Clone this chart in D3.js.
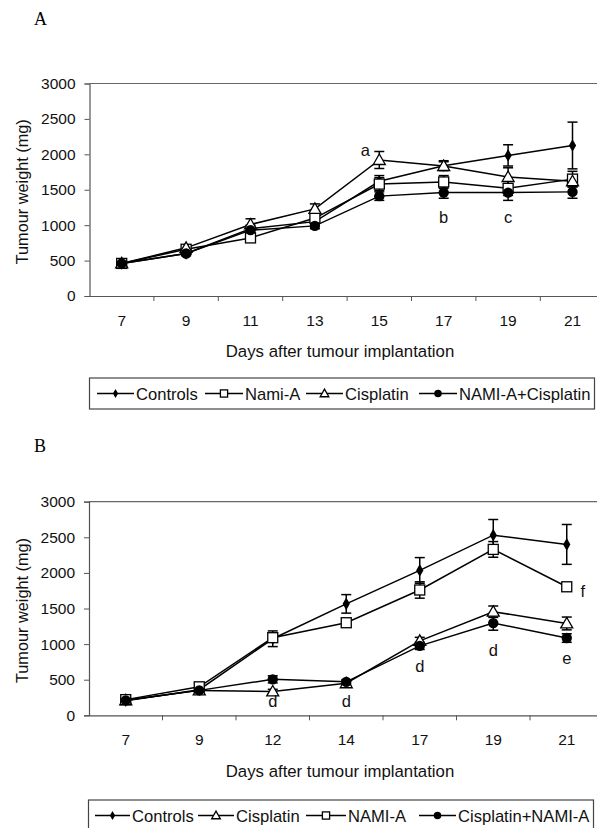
<!DOCTYPE html>
<html>
<head>
<meta charset="utf-8">
<script src="https://cdn.jsdelivr.net/npm/d3@7"></script>
<style>
  body { margin: 0; background: #fff; }
  svg { display: block; font-family: "Liberation Sans", Arial, sans-serif; }
</style>
</head>
<body>
<div id="chart"></div>
<script>
// panel A
const daysA = ["7", "9", "11", "13", "15", "17", "19", "21"];
const controlsA = [460, 600, 950, 1050, 1620, 1840, 1985, 2125];
const controlsErrA = [20, 30, 50, 40, 80, 70, 150, 330];
const namiA = [460, 660, 820, 1100, 1580, 1610, 1520, 1650];
const namiErrA = [20, 30, 40, 70, 90, 90, 100, 110];
const cisplatinA = [460, 680, 1010, 1230, 1920, 1835, 1680, 1620];
const cisplatinErrA = [20, 30, 80, 70, 120, 60, 130, 80];
const comboA = [460, 600, 930, 990, 1410, 1460, 1460, 1470];
const comboErrA = [20, 30, 40, 40, 60, 80, 110, 90];
const notesA = [["15", 2060, "a", -14], ["17", 1114, "b", 0], ["19", 1114, "c", 0]];

// panel B
const daysB = ["7", "9", "12", "14", "17", "19", "21"];
const controlsB = [205, 360, 1075, 1565, 2035, 2530, 2400];
const controlsErrB = [20, 30, 110, 130, 180, 220, 280];
const cisplatinB = [210, 350, 335, 450, 1045, 1455, 1290];
const cisplatinErrB = [20, 20, 30, 30, 50, 80, 90];
const namiB = [220, 400, 1090, 1300, 1760, 2330, 1805];
const namiErrB = [20, 30, 60, 60, 115, 110, 40];
const comboB = [210, 350, 505, 470, 975, 1295, 1085];
const comboErrB = [20, 20, 50, 30, 50, 100, 60];
const notesB = [["12", 191, "d", 0], ["14", 191, "d", 0], ["17", 692, "d", 0],
                ["19", 917, "d", 0], ["21", 800, "e", 0], ["21", 1736, "f", 16]];

const yTicks = [0, 500, 1000, 1500, 2000, 2500, 3000];

const svg = d3.select("#chart").append("svg")
  .attr("width", 597)
  .attr("height", 828);

function marker(g, shape, cx, cy, k = 1) {
  if (shape === "diamond") {
    g.append("path")
      .attr("d", d3.symbol(d3.symbolDiamond, 46 * k * k)())
      .attr("transform", `translate(${cx},${cy})`)
      .attr("fill", "#000");
  } else if (shape === "square") {
    g.append("rect")
      .attr("x", cx - 5 * k).attr("y", cy - 5 * k)
      .attr("width", 10 * k).attr("height", 10 * k)
      .attr("fill", "#fff").attr("stroke", "#000").attr("stroke-width", 1.3);
  } else if (shape === "triangle") {
    g.append("path")
      .attr("d", `M${cx},${cy - 6 * k}L${cx + 6 * k},${cy + 4.5 * k}L${cx - 6 * k},${cy + 4.5 * k}Z`)
      .attr("fill", "#fff").attr("stroke", "#000").attr("stroke-width", 1.3);
  } else {
    g.append("circle")
      .attr("cx", cx).attr("cy", cy).attr("r", 5.2 * k)
      .attr("fill", "#000");
  }
}

function drawPanel(p) {
  const g = svg.append("g");

  const x = d3.scaleBand().domain(p.days).range([p.left, p.left + p.band * p.days.length]);
  const y = d3.scaleLinear().domain([0, 3000]).range([p.bottom, p.top]);

  g.append("text")
    .attr("x", 34).attr("y", p.labelY)
    .attr("font-family", "Liberation Serif, Times New Roman, serif")
    .attr("font-size", 18)
    .text(p.label);

  // plot frame (top line)
  g.append("line")
    .attr("x1", p.left).attr("x2", x.range()[1])
    .attr("y1", p.top).attr("y2", p.top)
    .attr("stroke", "#666").attr("stroke-width", 1.2);

  // y axis
  const yAxis = g.append("g")
    .attr("transform", `translate(${p.left},0)`)
    .call(d3.axisLeft(y).tickValues(yTicks).tickFormat(d3.format("d"))
      .tickSize(5).tickPadding(9));
  yAxis.select(".domain").attr("stroke", "#555").attr("stroke-width", 1.2);
  yAxis.selectAll(".tick line").attr("stroke", "#555");
  yAxis.selectAll("text").attr("font-size", 15.5).attr("fill", "#111")
    .attr("font-family", "Liberation Sans, Arial, sans-serif");

  // x axis: labels at centres, ticks at category boundaries
  const xAxis = g.append("g")
    .attr("transform", `translate(0,${p.bottom})`)
    .call(d3.axisBottom(x).tickSize(0).tickPadding(19));
  xAxis.select(".domain").attr("stroke", "#555").attr("stroke-width", 1.2);
  xAxis.selectAll("text").attr("font-size", 15.5).attr("fill", "#111")
    .attr("font-family", "Liberation Sans, Arial, sans-serif");
  g.selectAll(".xtick")
    .data(p.days.slice(1))
    .join("line")
    .attr("x1", d => x(d)).attr("x2", d => x(d))
    .attr("y1", p.bottom).attr("y2", p.bottom + 5)
    .attr("stroke", "#555");

  g.append("text")
    .attr("x", 340).attr("y", p.xTitleY)
    .attr("text-anchor", "middle")
    .attr("font-size", 16.8).attr("fill", "#111")
    .text("Days after tumour implantation");

  g.append("text")
    .attr("transform", `translate(28,${(p.top + p.bottom) / 2 + 2}) rotate(-90)`)
    .attr("text-anchor", "middle")
    .attr("font-size", 16.3).attr("fill", "#111")
    .text("Tumour weight (mg)");

  const cx = d => x(d) + x.bandwidth() / 2;
  const line = d3.line().x(d => cx(d.day)).y(d => y(d.v));

  p.series.forEach(s => {
    const pts = p.days.map((day, i) => ({ day, v: s.values[i], e: s.errors[i] }));
    g.append("path")
      .datum(pts)
      .attr("d", line)
      .attr("fill", "none")
      .attr("stroke", "#000")
      .attr("stroke-width", 1.5);
    pts.forEach(d => {
      const xx = cx(d.day);
      const eb = g.append("g").attr("stroke", "#000").attr("stroke-width", 1.5);
      eb.append("line").attr("x1", xx).attr("x2", xx)
        .attr("y1", y(d.v - d.e)).attr("y2", y(d.v + d.e));
      [d.v - d.e, d.v + d.e].forEach(v => {
        eb.append("line").attr("x1", xx - 5).attr("x2", xx + 5)
          .attr("y1", y(v)).attr("y2", y(v));
      });
    });
  });
  p.series.forEach(s => {
    p.days.forEach((day, i) => marker(g, s.shape, cx(day), y(s.values[i])));
  });

  p.notes.forEach(n => {
    g.append("text")
      .attr("x", cx(n[0]) + n[3]).attr("y", y(n[1]))
      .attr("dy", "0.35em")
      .attr("text-anchor", "middle")
      .attr("font-size", 16.5).attr("fill", "#111")
      .text(n[2]);
  });

  // legend
  const lg = g.append("g");
  lg.append("rect")
    .attr("x", p.legend.x).attr("y", p.legend.y)
    .attr("width", p.legend.w).attr("height", p.legend.h)
    .attr("fill", "none").attr("stroke", "#444").attr("stroke-width", 1.2);
  p.series.forEach((s, i) => {
    const it = p.legend.items[i];
    const my = p.legend.y + 15.5;
    lg.append("line")
      .attr("x1", it[0]).attr("x2", it[1])
      .attr("y1", my).attr("y2", my)
      .attr("stroke", "#000").attr("stroke-width", 1.5);
    marker(lg, s.shape, (it[0] + it[1]) / 2, my, 0.72);
    lg.append("text")
      .attr("x", it[1] + 2).attr("y", my + 6)
      .attr("font-size", 16.6).attr("fill", "#111")
      .text(s.name);
  });
}

drawPanel({
  label: "A", labelY: 25,
  days: daysA, left: 89.5, band: 64.4, top: 83.5, bottom: 296,
  xTitleY: 357,
  series: [
    { name: "Controls", shape: "diamond", values: controlsA, errors: controlsErrA },
    { name: "Nami-A", shape: "square", values: namiA, errors: namiErrA },
    { name: "Cisplatin", shape: "triangle", values: cisplatinA, errors: cisplatinErrA },
    { name: "NAMI-A+Cisplatin", shape: "circle", values: comboA, errors: comboErrA }
  ],
  notes: notesA,
  legend: { x: 89.5, y: 378, w: 505, h: 31,
            items: [[97, 134], [205, 243], [306, 343], [419, 457]] }
});

drawPanel({
  label: "B", labelY: 452,
  days: daysB, left: 89, band: 73.5, top: 501.7, bottom: 715.3,
  xTitleY: 777,
  series: [
    { name: "Controls", shape: "diamond", values: controlsB, errors: controlsErrB },
    { name: "Cisplatin", shape: "triangle", values: cisplatinB, errors: cisplatinErrB },
    { name: "NAMI-A", shape: "square", values: namiB, errors: namiErrB },
    { name: "Cisplatin+NAMI-A", shape: "circle", values: comboB, errors: comboErrB }
  ],
  notes: notesB,
  legend: { x: 88.5, y: 800, w: 505, h: 32,
            items: [[95, 130], [198, 234], [306, 346], [419, 456]] }
});
</script>
</body>
</html>
